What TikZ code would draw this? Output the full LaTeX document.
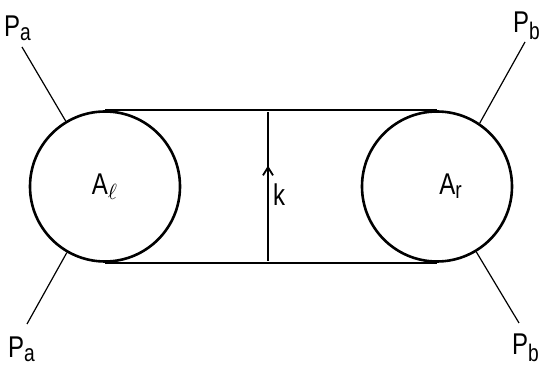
\documentclass[tikz,border=0pt]{standalone}
\usepackage{fontspec}
\setsansfont[FakeStretch=0.8]{Liberation Sans}
\usetikzlibrary{decorations.markings,arrows.meta}
\begin{document}
\begin{tikzpicture}[x=0.5pt,y=-0.5pt,
  blob/.style={circle,draw,line width=1.3pt,minimum size=75pt,inner sep=0pt,font=\sffamily\fontsize{15}{17}\selectfont},
  prop/.style={line width=0.9pt},
  leg/.style={line width=0.6pt},
  lbl/.style={font=\sffamily\fontsize{15}{17}\selectfont,inner sep=0pt},
  midarrow/.style={postaction={decorate},decoration={markings,mark=at position 0.64 with {\arrow{Straight Barb[length=4pt,width=5pt]}}}}]
\useasboundingbox (0,0) rectangle (542,368);
\node[blob] (Al) at (105,186.5) {A$_{\scriptstyle\ell}$};
\node[blob] (Ar) at (437,186.5) {\hspace{14pt}A$_{\textsf{\large r}}$};
\draw[prop] (Al.north) -- (Ar.north);
\draw[prop] (Al.south) -- (Ar.south);
\coordinate (kt) at (268,112);
\coordinate (kb) at (268,261);
\draw[prop,midarrow] (kb) -- (kt);
\node[lbl] (k) at (279,195) {k};
\coordinate (e1) at (22,47);
\coordinate (e2) at (27,324);
\coordinate (e3) at (525,42);
\coordinate (e4) at (519,323);
\draw[leg] (Al.121) -- (e1);
\draw[leg] (Al.-120) -- (e2);
\draw[leg] (Ar.56) -- (e3);
\draw[leg] (Ar.-59) -- (e4);
\node[lbl] (pa1) at (18,28) {P$_{\textsf{\large a}}$};
\node[lbl] (pa2) at (22,349) {P$_{\textsf{\large a}}$};
\node[lbl] (pb1) at (527,26) {P$_{\textsf{\large b}}$};
\node[lbl] (pb2) at (526,348) {P$_{\textsf{\large b}}$};
\end{tikzpicture}
\end{document}
